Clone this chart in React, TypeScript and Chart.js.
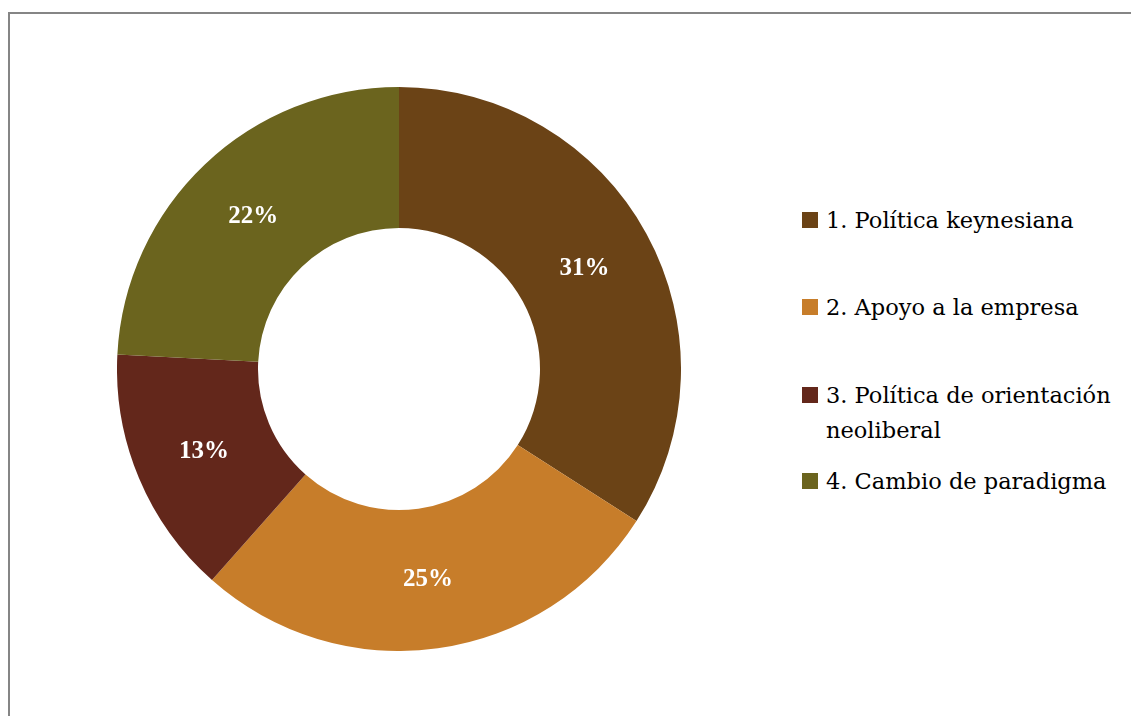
import React, { useEffect, useRef } from "react";
import { Chart, registerables } from "chart.js";

Chart.register(...registerables);

const categories: string[] = [
  "1. Política keynesiana",
  "2. Apoyo a la empresa",
  "3. Política de orientación neoliberal",
  "4. Cambio de paradigma",
];
const values: number[] = [31, 25, 13, 22];
const colors: string[] = ["#6B4316", "#C77D2A", "#63271B", "#6B641E"];
const legendCenters: number[] = [220, 307, 395, 481];

const LABEL_FONT = "'Liberation Serif', 'Times New Roman', serif";
const LEGEND_FONT = "'DejaVu Serif', 'Liberation Serif', serif";

const labelPlugin = {
  id: "sliceLabels",
  afterDatasetsDraw(chart: any) {
    const ctx = chart.ctx;
    const meta = chart.getDatasetMeta(0);
    ctx.save();
    ctx.fillStyle = "#ffffff";
    ctx.font = `bold 25px ${LABEL_FONT}`;
    ctx.textAlign = "center";
    ctx.textBaseline = "middle";
    meta.data.forEach((arc: any, i: number) => {
      const p = arc.tooltipPosition();
      ctx.fillText(`${values[i]}%`, p.x, p.y + 1);
    });
    ctx.restore();
  },
};

export default function App() {
  const canvasRef = useRef<HTMLCanvasElement | null>(null);

  useEffect(() => {
    if (!canvasRef.current) return;
    const chart = new Chart(canvasRef.current, {
      type: "doughnut",
      data: {
        labels: categories,
        datasets: [
          {
            data: values,
            backgroundColor: colors,
            borderWidth: 0,
          },
        ],
      },
      options: {
        animation: false,
        responsive: true,
        maintainAspectRatio: false,
        cutout: "50%",
        layout: { padding: 0 },
        plugins: {
          legend: { display: false },
          tooltip: { enabled: false },
        },
      },
      plugins: [labelPlugin],
    });
    return () => chart.destroy();
  }, []);

  return (
    <div
      style={{
        position: "absolute",
        left: 0,
        top: 0,
        width: 1131,
        height: 716,
        overflow: "hidden",
        background: "#ffffff",
        fontFamily: LEGEND_FONT,
      }}
    >
      <div
        style={{
          position: "absolute",
          left: 8,
          top: 12,
          width: 1140,
          height: 720,
          borderTop: "2px solid #858585",
          borderLeft: "2px solid #858585",
          boxSizing: "border-box",
        }}
      />
      <div
        style={{
          position: "absolute",
          left: 117,
          top: 87,
          width: 564,
          height: 564,
        }}
      >
        <canvas ref={canvasRef} />
      </div>
      {categories.map((c, i) => (
        <div
          key={c}
          style={{
            position: "absolute",
            left: 802,
            top: legendCenters[i] - 17.5,
            width: 329,
          }}
        >
          <div
            style={{
              position: "absolute",
              left: 0,
              top: 9.5,
              width: 16,
              height: 16,
              background: colors[i],
            }}
          />
          <div
            style={{
              position: "absolute",
              left: 24,
              top: 0,
              width: 305,
              fontSize: 22.5,
              lineHeight: "35px",
              color: "#000",
              whiteSpace: "normal",
            }}
          >
            {c}
          </div>
        </div>
      ))}
    </div>
  );
}
